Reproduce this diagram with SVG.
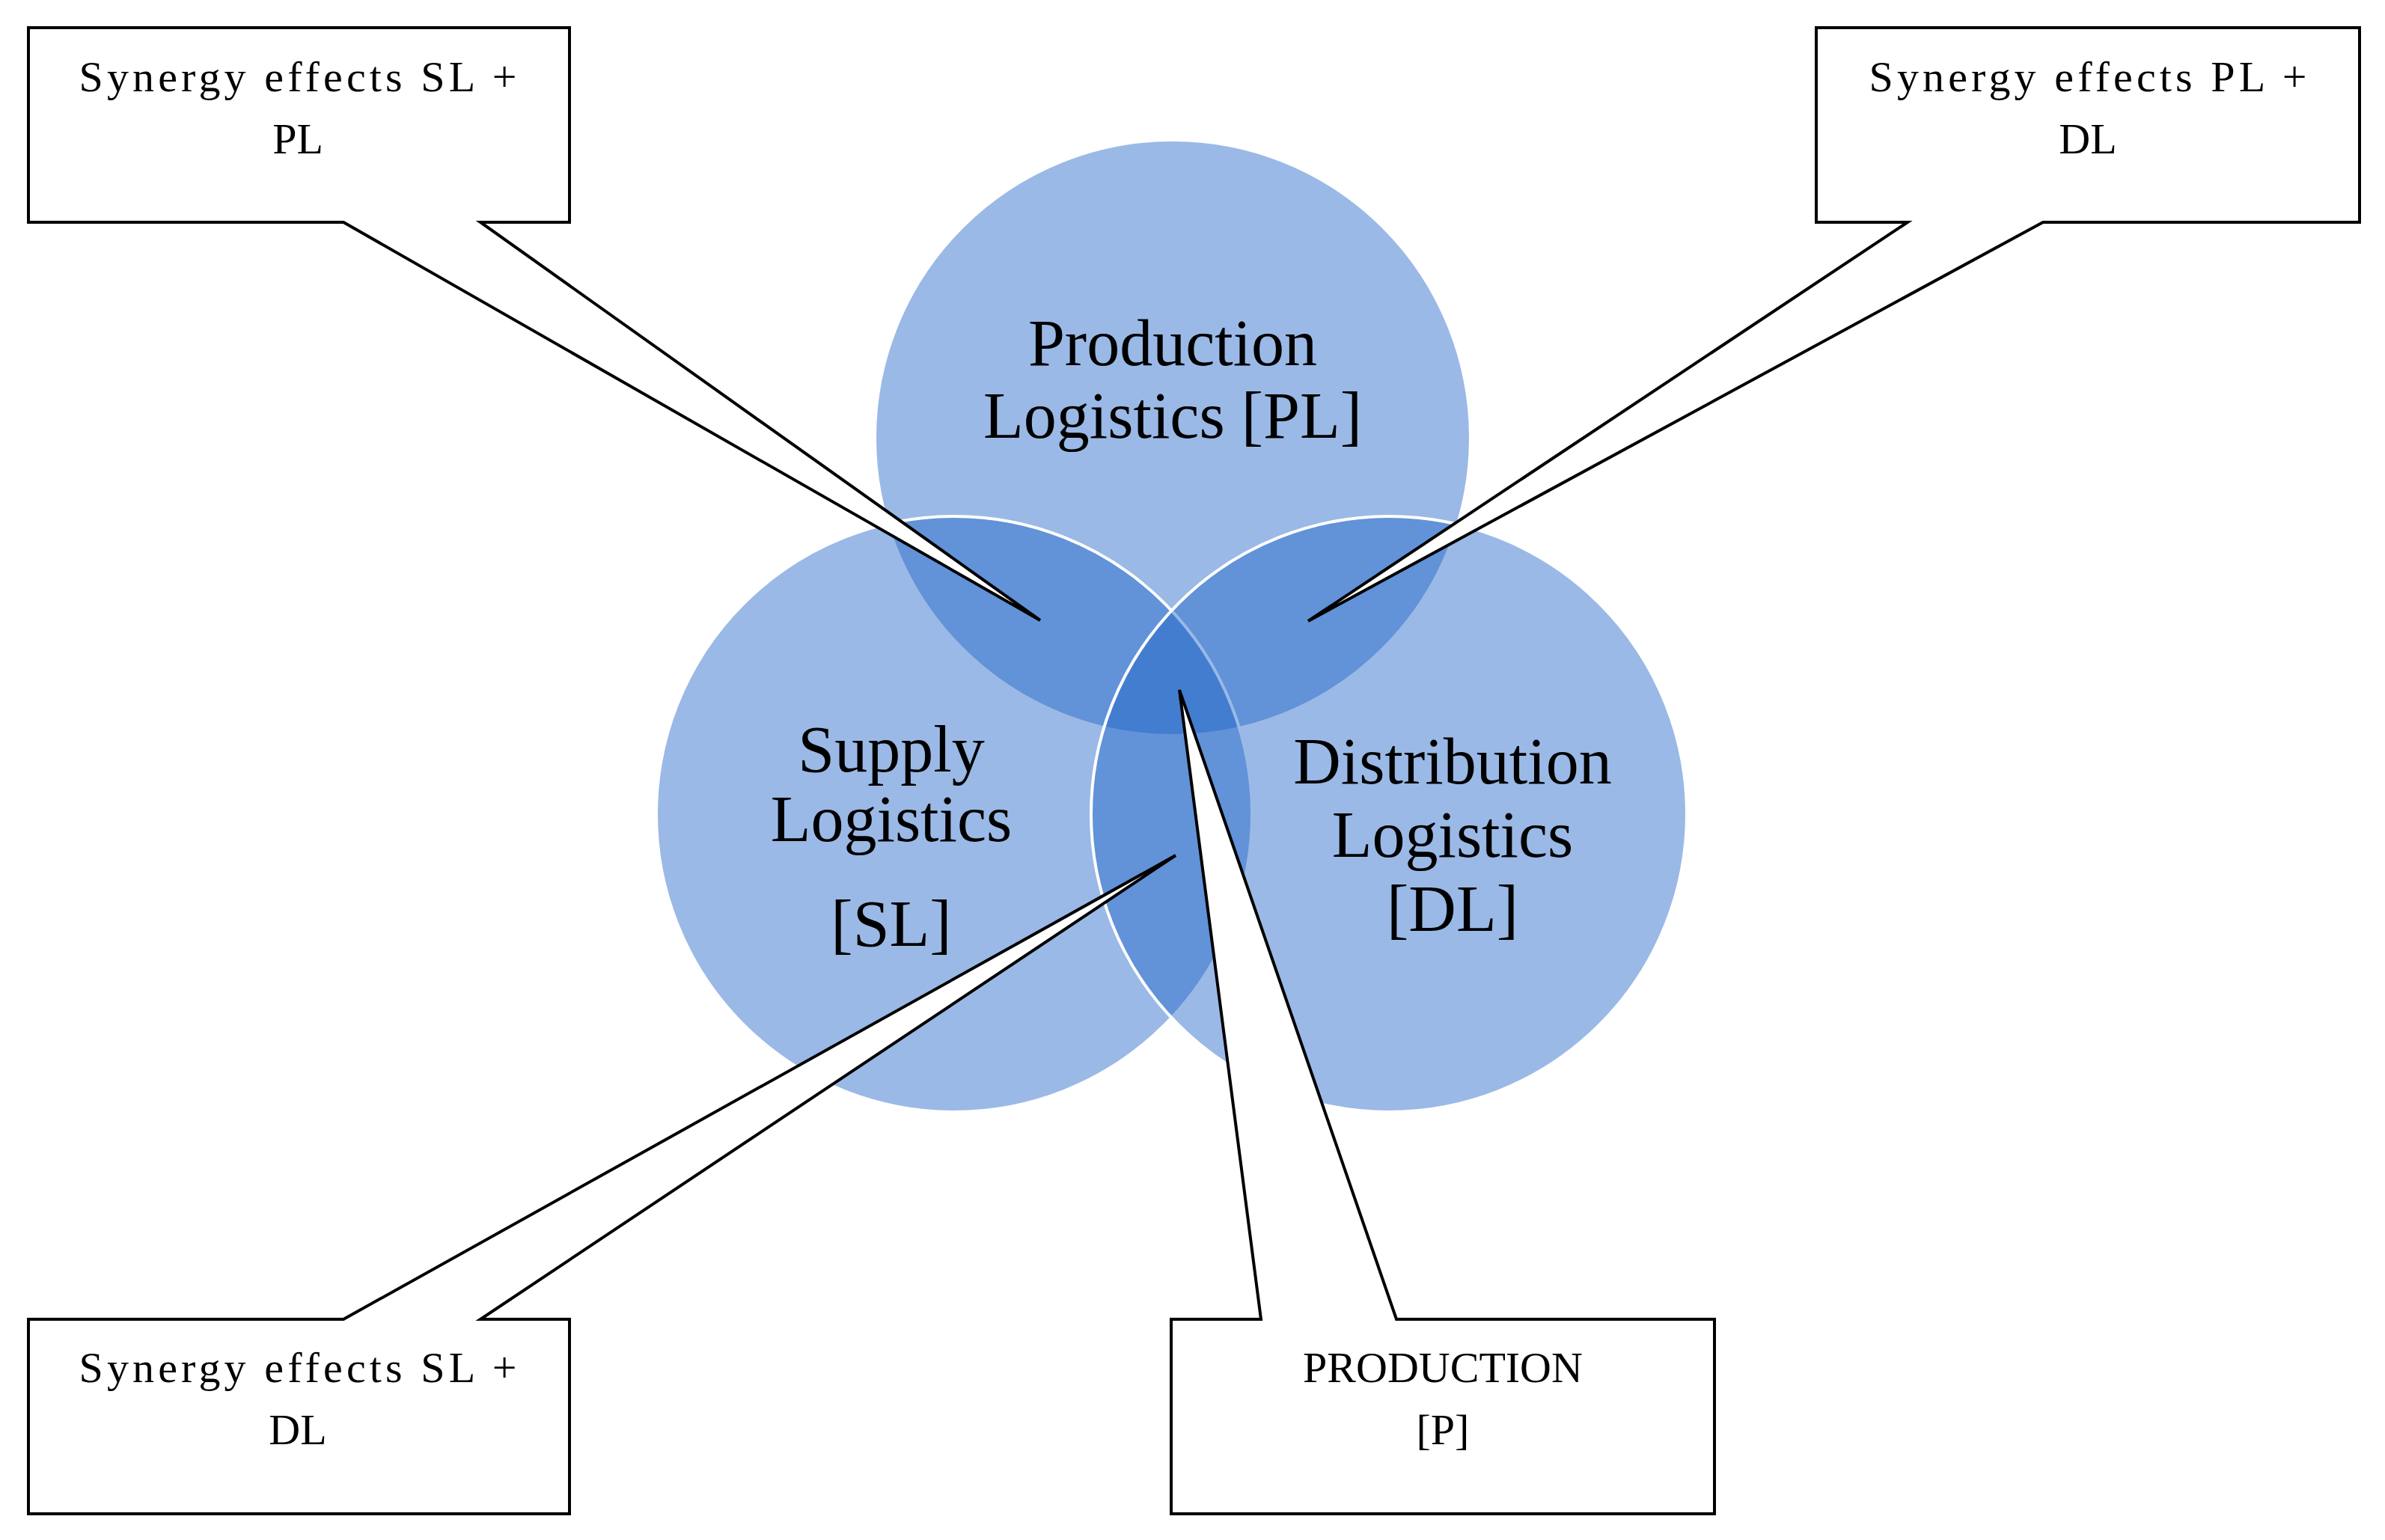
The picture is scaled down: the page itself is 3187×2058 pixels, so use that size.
<svg xmlns="http://www.w3.org/2000/svg" width="3187" height="2058" viewBox="0 0 3187 2058">
<style>
.c{fill:#1e64c8;fill-opacity:0.45;stroke:#fff;stroke-width:4}
.b{fill:#fff;stroke:#000;stroke-width:4;stroke-linejoin:miter}
.t{font-family:"Liberation Serif",serif;font-size:58px;fill:#000;text-anchor:middle}
.ct{font-family:"Liberation Serif",serif;font-size:88px;fill:#000;text-anchor:middle}
</style>
<rect width="3187" height="2058" fill="#fff"/>
<g id="circles">
<circle id="pl" class="c" cx="1567" cy="585" r="398"/>
<circle id="sl" class="c" cx="1275" cy="1088" r="398"/>
<circle id="dl" class="c" cx="1856" cy="1088" r="398"/>
</g>
<g id="circle-labels">
<text class="ct" x="1567" y="488">Production</text>
<text class="ct" x="1567" y="585">Logistics [PL]</text>
<text class="ct" x="1191" y="1031">Supply</text>
<text class="ct" x="1191" y="1124">Logistics</text>
<text class="ct" x="1191" y="1264">[SL]</text>
<text class="ct" x="1941" y="1047">Distribution</text>
<text class="ct" x="1941" y="1145">Logistics</text>
<text class="ct" x="1941" y="1244">[DL]</text>
</g>
<g id="connectors">
<g id="callout-sl-pl">
<path class="b" d="M38,37 H761 V297 H642 L1390,829 L459,297 H38 Z"/>
<text class="t" x="398" y="122" textLength="585" lengthAdjust="spacing">Synergy effects SL +</text>
<text class="t" x="398" y="205">PL</text>
</g>
<g id="callout-pl-dl">
<path class="b" d="M2427,37 H3153 V297 H2730 L1748,830 L2549,297 H2427 Z"/>
<text class="t" x="2790" y="122" textLength="585" lengthAdjust="spacing">Synergy effects PL +</text>
<text class="t" x="2790" y="205">DL</text>
</g>
<g id="callout-sl-dl">
<path class="b" d="M38,1763 H459 L1571,1143 L642,1763 H761 V2023 H38 Z"/>
<text class="t" x="398" y="1847" textLength="585" lengthAdjust="spacing">Synergy effects SL +</text>
<text class="t" x="398" y="1930">DL</text>
</g>
<g id="callout-production">
<path class="b" d="M1565,1763 H1685 L1576,922 L1866,1763 H2291 V2023 H1565 Z"/>
<text class="t" x="1928" y="1847">PRODUCTION</text>
<text class="t" x="1928" y="1930">[P]</text>
</g>
</g>
</svg>
